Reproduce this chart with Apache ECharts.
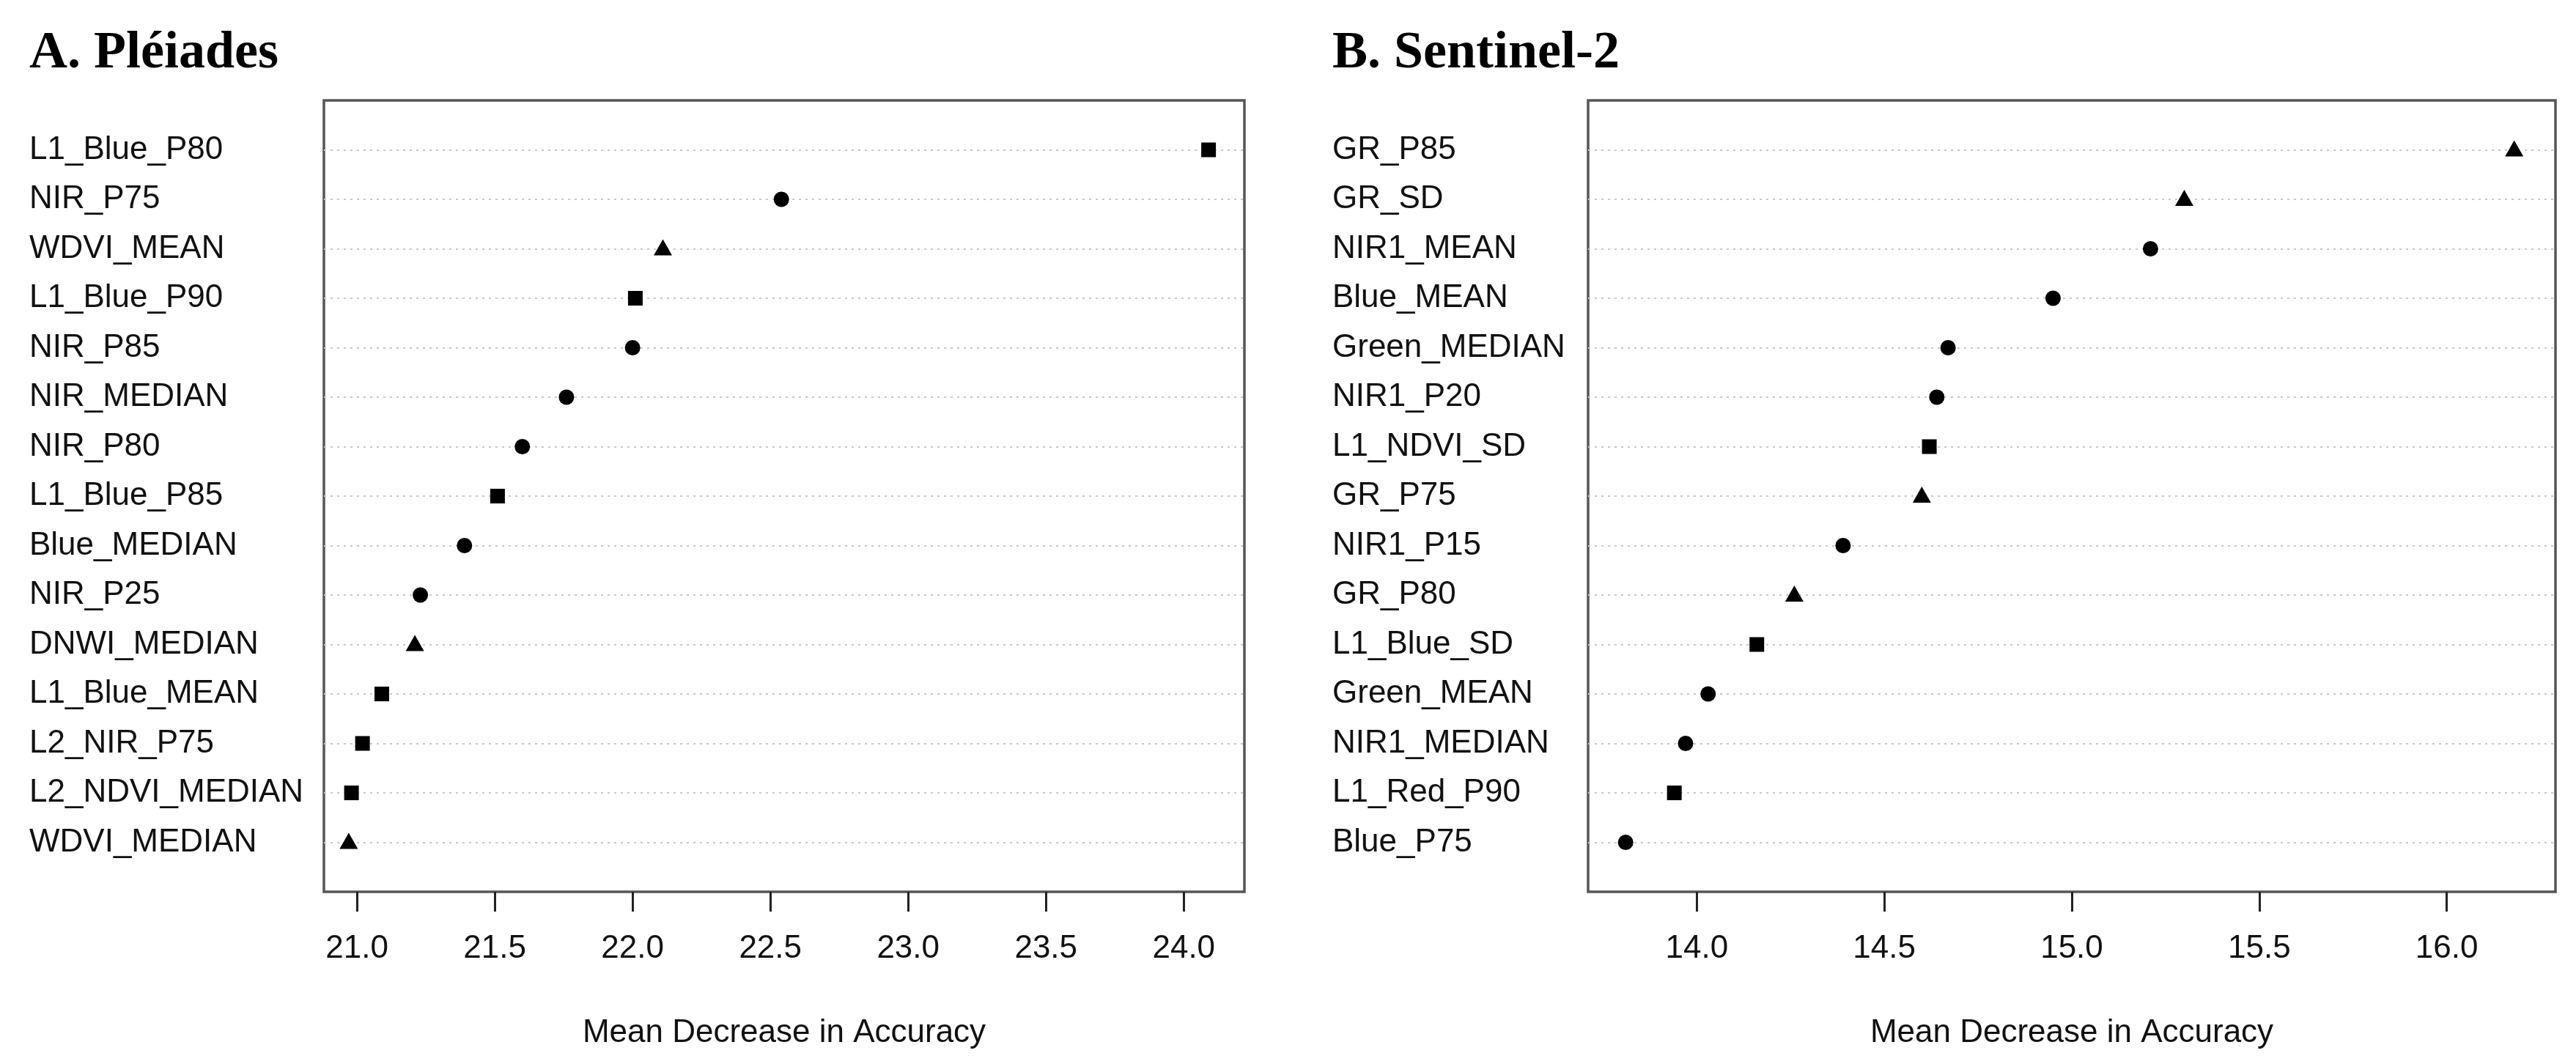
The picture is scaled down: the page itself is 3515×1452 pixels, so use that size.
<!DOCTYPE html>
<html>
<head>
<meta charset="utf-8">
<script src="https://cdn.jsdelivr.net/npm/echarts@6/dist/echarts.min.js"></script>
<style>
  html, body { margin: 0; padding: 0; background: #fff; }
  #chart { width: 3515px; height: 1452px; }
</style>
</head>
<body>
<div id="chart"></div>
<script>
// panel A, top to bottom as in the picture
var plNames = ['L1_Blue_P80','NIR_P75','WDVI_MEAN','L1_Blue_P90','NIR_P85','NIR_MEDIAN','NIR_P80','L1_Blue_P85','Blue_MEDIAN','NIR_P25','DNWI_MEDIAN','L1_Blue_MEAN','L2_NIR_P75','L2_NDVI_MEDIAN','WDVI_MEDIAN'];
var plValues = [24.09, 22.54, 22.11, 22.01, 22.00, 21.76, 21.60, 21.51, 21.39, 21.23, 21.21, 21.09, 21.02, 20.98, 20.97];
var plShapes = ['sq','ci','tr','sq','ci','ci','ci','sq','ci','ci','tr','sq','sq','sq','tr'];
var plTicks = [21.0, 21.5, 22.0, 22.5, 23.0, 23.5, 24.0];
var plRange = [20.88, 24.22];

// panel B
var s2Names = ['GR_P85','GR_SD','NIR1_MEAN','Blue_MEAN','Green_MEDIAN','NIR1_P20','L1_NDVI_SD','GR_P75','NIR1_P15','GR_P80','L1_Blue_SD','Green_MEAN','NIR1_MEDIAN','L1_Red_P90','Blue_P75'];
var s2Values = [16.18, 15.30, 15.21, 14.95, 14.67, 14.64, 14.62, 14.60, 14.39, 14.26, 14.16, 14.03, 13.97, 13.94, 13.81];
var s2Shapes = ['tr','tr','ci','ci','ci','ci','sq','tr','ci','tr','sq','ci','ci','sq','ci'];
var s2Ticks = [14.0, 14.5, 15.0, 15.5, 16.0];
var s2Range = [13.71, 16.29];

var xTitle = 'Mean Decrease in Accuracy';

var SANS = 'Liberation Sans, Arial, sans-serif';
var marks = {
	sq: {symbol:'rect', size:20, offset:[0,0]},
	ci: {symbol:'circle', size:21, offset:[0,0]},
	tr: {symbol:'triangle', size:[25,22], offset:[0,-2]}
};

function points(names, values, shapes){
	return names.map(function(n, i){
		var m = marks[shapes[i]];
		return {value:[values[i], n], symbol:m.symbol, symbolSize:m.size, symbolOffset:m.offset};
	});
}

// blank rows at both ends give the one-row gap to the box, like dotchart
function rows(names){ return [''].concat(names, ['']); }

function xAxisFor(idx, range, ticks){
	return {
		type:'value', gridIndex:idx, min:range[0], max:range[1],
		axisLine:{show:false},
		splitLine:{show:false},
		axisTick:{show:true, length:27, customValues:ticks, lineStyle:{color:'#222', width:3}},
		axisLabel:{customValues:ticks, margin:56, fontSize:44, color:'#111', fontFamily:SANS,
			formatter:function(v){ return v.toFixed(1); }},
		name:xTitle, nameLocation:'middle', nameGap:171,
		nameTextStyle:{fontSize:44, color:'#111', fontFamily:SANS}
	};
}

function yAxisFor(idx, names, margin){
	return {
		type:'category', gridIndex:idx, data:rows(names), inverse:true, boundaryGap:false,
		axisLine:{show:false}, axisTick:{show:false},
		axisLabel:{align:'left', margin:margin, fontSize:44, color:'#111', fontFamily:SANS, interval:0},
		splitLine:{show:true, interval:function(i, v){ return v !== ''; },
			lineStyle:{color:'#c8c8c8', width:2, type:[3,6]}}
	};
}

var titleStyle = {fontFamily:'Liberation Serif, serif', fontWeight:'bold', fontSize:72, color:'#000'};

var chart = echarts.init(document.getElementById('chart'));
chart.setOption({
	animation:false,
	backgroundColor:'#fff',
	title:[
		{text:'A. Pléiades', left:35, top:32, textStyle:titleStyle},
		{text:'B. Sentinel-2', left:1813, top:32, textStyle:titleStyle}
	],
	grid:[
		{left:442, width:1256, top:137, height:1080, show:true, borderColor:'#555', borderWidth:3.5},
		{left:2167, width:1320, top:137, height:1080, show:true, borderColor:'#555', borderWidth:3.5}
	],
	xAxis:[xAxisFor(0, plRange, plTicks), xAxisFor(1, s2Range, s2Ticks)],
	yAxis:[yAxisFor(0, plNames, 402), yAxisFor(1, s2Names, 349)],
	series:[
		{type:'scatter', xAxisIndex:0, yAxisIndex:0, itemStyle:{color:'#000', opacity:1}, data:points(plNames, plValues, plShapes)},
		{type:'scatter', xAxisIndex:1, yAxisIndex:1, itemStyle:{color:'#000', opacity:1}, data:points(s2Names, s2Values, s2Shapes)}
	]
});
</script>
</body>
</html>
